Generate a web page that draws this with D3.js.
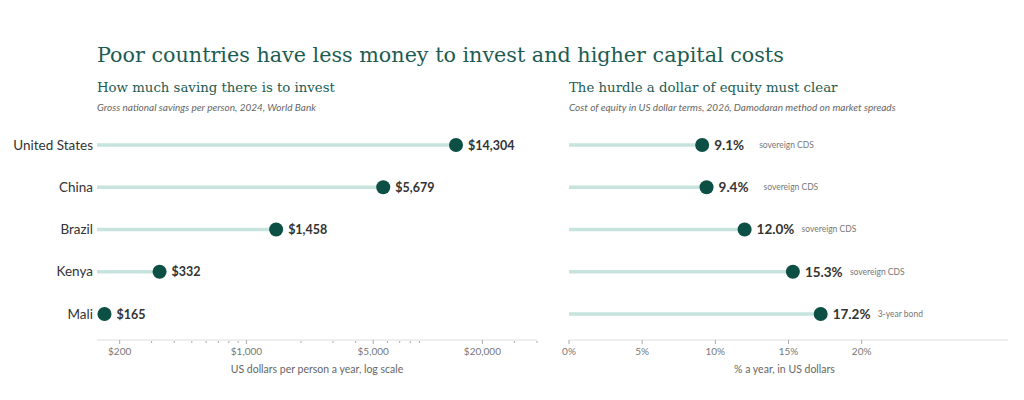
<!DOCTYPE html>
<html>
<head>
<meta charset="utf-8">
<script src="https://cdn.jsdelivr.net/npm/d3@7"></script>
<style>
  html, body { margin: 0; padding: 0; background: #fff; }
  svg { display: block; }
  text { font-family: Lato, "Open Sans", sans-serif; }
  .serif { font-family: "DejaVu Serif", "Liberation Serif", serif; fill: #1d5c52; }
</style>
</head>
<body>
<svg id="chart" width="1024" height="400"></svg>
<script>
'use strict';

// data
var countries = ["United States", "China", "Brazil", "Kenya", "Mali"];
var savings = [14304, 5679, 1458, 332, 165];
var costOfEquity = [9.1, 9.4, 12.0, 15.3, 17.2];
var equityNotes = ["sovereign CDS", "sovereign CDS", "sovereign CDS", "sovereign CDS", "3-year bond"];

var savingsTicks = [200, 1000, 5000, 20000];
var savingsMinor = [300, 400, 500, 600, 700, 800, 900, 2000, 3000, 4000, 6000, 7000, 8000, 9000, 30000, 40000];
var equityTicks = [0, 5, 10, 15, 20];

var stemColor = "#c6e4dd";
var dotColor = "#0c4f45";

var svg = d3.select("#chart");

svg.append("text")
    .attr("class", "serif")
    .attr("x", 97).attr("y", 62)
    .style("font-size", "20.7px")
    .text("Poor countries have less money to invest and higher capital costs");

var y = d3.scalePoint().domain(countries).range([145, 314]);

function panel(opts) {
    var g = svg.append("g");
    var x = opts.scale;
    var x0 = x.range()[0];

    g.append("text")
        .attr("class", "serif")
        .attr("x", x0).attr("y", 92)
        .style("font-size", "13.3px")
        .text(opts.title);

    g.append("text")
        .attr("x", x0).attr("y", 111)
        .style("font-size", "10px")
        .style("font-style", "italic")
        .style("fill", "#666")
        .text(opts.note);

    // axis
    var axisY = 340;
    var axis = g.append("g").attr("transform", "translate(0," + axisY + ")");
    axis.append("line")
        .attr("x1", x.range()[0]).attr("x2", x.range()[1])
        .attr("stroke", "#ddd").attr("stroke-width", 1.2);

    axis.selectAll(".minor")
        .data(opts.minor || [])
        .enter().append("line")
        .attr("x1", function(d) { return x(d); })
        .attr("x2", function(d) { return x(d); })
        .attr("y1", 1).attr("y2", 3)
        .attr("stroke", "#aaa").attr("stroke-width", 1);

    var major = axis.selectAll(".major")
        .data(opts.ticks)
        .enter().append("g")
        .attr("transform", function(d) { return "translate(" + x(d) + ",0)"; });
    major.append("line")
        .attr("y1", 0).attr("y2", 4)
        .attr("stroke", "#aaa").attr("stroke-width", 1);
    major.append("text")
        .attr("y", 15)
        .attr("text-anchor", "middle")
        .style("font-size", "10px")
        .style("fill", "#777")
        .text(opts.tickFormat);

    g.append("text")
        .attr("x", (x.range()[0] + x.range()[1]) / 2 - opts.titleShift)
        .attr("y", 373)
        .attr("text-anchor", "middle")
        .style("font-size", "10.5px")
        .style("fill", "#666")
        .text(opts.axisTitle);

    // lollipops
    var rows = g.selectAll(".row")
        .data(opts.values)
        .enter().append("g")
        .attr("transform", function(d, i) { return "translate(0," + y(countries[i]) + ")"; });

    rows.append("line")
        .attr("x1", x0)
        .attr("x2", function(d) { return x(d); })
        .attr("stroke", stemColor)
        .attr("stroke-width", 3.5);

    rows.append("circle")
        .attr("cx", function(d) { return x(d); })
        .attr("r", 7)
        .attr("fill", dotColor);

    rows.append("text")
        .attr("x", function(d) { return x(d) + 12; })
        .attr("dy", "0.36em")
        .style("font-size", opts.valueSize)
        .style("font-weight", "bold")
        .style("fill", "#333")
        .text(opts.valueFormat);

    if (opts.notes) {
        rows.append("text")
            .attr("x", function(d) { return x(d) + 57; })
            .attr("dy", "0.34em")
            .style("font-size", "8.5px")
            .style("fill", "#777")
            .text(function(d, i) { return opts.notes[i]; });
    }

    if (opts.showCountries) {
        g.selectAll(".country")
            .data(countries)
            .enter().append("text")
            .attr("x", x0 - 4)
            .attr("y", function(d) { return y(d); })
            .attr("dy", "0.35em")
            .attr("text-anchor", "end")
            .style("font-size", "13.5px")
            .style("fill", "#333")
            .text(function(d) { return d; });
    }
}

panel({
    scale: d3.scaleLog().domain([150, 40000]).range([97, 537]),
    title: "How much saving there is to invest",
    note: "Gross national savings per person, 2024, World Bank",
    axisTitle: "US dollars per person a year, log scale",
    titleShift: 0,
    values: savings,
    ticks: savingsTicks,
    minor: savingsMinor,
    tickFormat: function(d) { return "$" + d3.format(",")(d); },
    valueFormat: function(d) { return "$" + d3.format(",")(d); },
    valueSize: "12.5px",
    showCountries: true
});

panel({
    scale: d3.scaleLinear().domain([0, 30]).range([569, 1008]),
    title: "The hurdle a dollar of equity must clear",
    note: "Cost of equity in US dollar terms, 2026, Damodaran method on market spreads",
    axisTitle: "% a year, in US dollars",
    titleShift: 4,
    values: costOfEquity,
    ticks: equityTicks,
    tickFormat: function(d) { return d + "%"; },
    valueFormat: function(d) { return d.toFixed(1) + "%"; },
    valueSize: "13.5px",
    notes: equityNotes
});
</script>
</body>
</html>
